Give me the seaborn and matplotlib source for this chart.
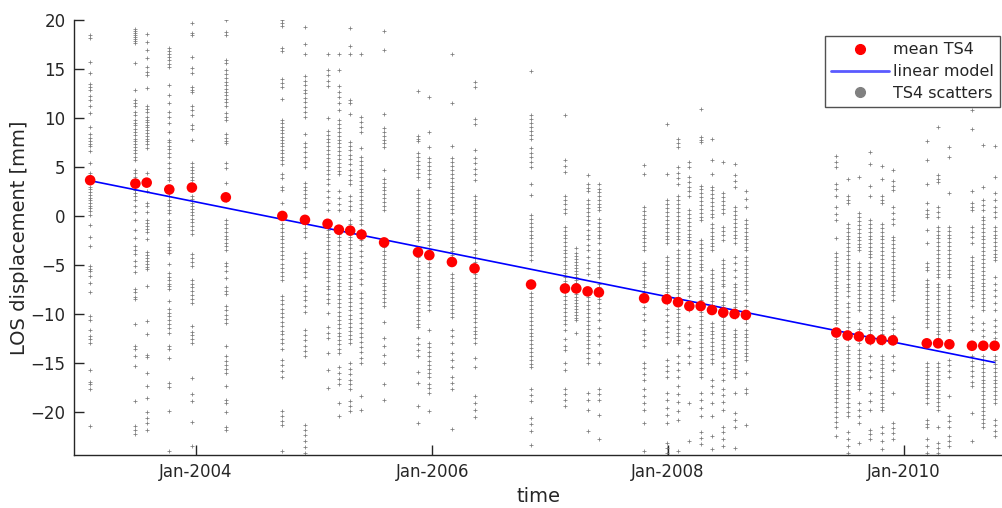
import pandas as pd
import numpy as np
import matplotlib
matplotlib.use('Agg')
import matplotlib.pyplot as plt
import matplotlib.dates as mdates
from matplotlib.lines import Line2D
import seaborn as sns

# acquisition dates (35-day repeat cycle)
dates = ['2003-02-07', '2003-06-27', '2003-08-01', '2003-10-10', '2003-12-19',
         '2004-04-02', '2004-09-24', '2004-12-03',
         '2005-02-11', '2005-03-18', '2005-04-22', '2005-05-27', '2005-08-05', '2005-11-18', '2005-12-23',
         '2006-03-03', '2006-05-12', '2006-11-03',
         '2007-02-16', '2007-03-23', '2007-04-27', '2007-06-01', '2007-10-19', '2007-12-28',
         '2008-02-01', '2008-03-07', '2008-04-11', '2008-05-16', '2008-06-20', '2008-07-25', '2008-08-29',
         '2009-06-05', '2009-07-10', '2009-08-14', '2009-09-18', '2009-10-23', '2009-11-27',
         '2010-03-12', '2010-04-16', '2010-05-21', '2010-07-30', '2010-09-03', '2010-10-08']

# mean LOS displacement per date [mm]
mean_ts4 = [3.65, 3.3, 3.4, 2.7, 2.9,
            1.9, 0.0, -0.4,
            -0.8, -1.4, -1.5, -1.9, -2.7, -3.7, -4.0,
            -4.7, -5.35, -7.0,
            -7.4, -7.4, -7.7, -7.8, -8.4, -8.5,
            -8.8, -9.2, -9.2, -9.6, -9.85, -10.0, -10.1,
            -11.9, -12.2, -12.3, -12.6, -12.65, -12.7,
            -13.0, -13.0, -13.1, -13.25, -13.25, -13.25]

# linear model
model_offset = 3.6    # mm at first date
model_rate = -2.42    # mm / year

# individual scatterer values per date [mm]
ts4_scatter = [
    [18.5, 18.2, 15.7, 14.6, 13.5, 13.2, 12.9, 12.2, 11.8, 11.2, 10.5, 9.1, 8.4, 8.0, 7.6, 7.3, 7.1, 6.6, 5.4, 4.4, 3.0, 2.7, 2.4, 2.1, 1.8, 1.6, 1.3, 1.0, 0.8, 0.5, 0.1, -0.9, -2.2, -3.1, -5.1, -5.4, -5.6, -6.1, -6.8, -7.8, -10.2, -10.6, -11.6, -12.3, -12.6, -13.0, -15.7, -16.9, -17.2, -17.7, -21.4],
    [19.1, 18.9, 18.7, 18.5, 18.3, 18.1, 17.9, 17.7, 15.6, 12.9, 11.8, 11.5, 11.2, 10.6, 10.3, 9.8, 9.5, 9.3, 8.9, 8.6, 8.3, 7.9, 7.6, 7.3, 7.0, 6.7, 6.4, 6.0, 5.7, 4.7, 4.4, 4.0, 3.0, 2.6, 2.3, 2.0, 1.6, 1.0, 0.4, -0.4, -1.4, -2.3, -3.1, -3.5, -3.9, -4.6, -5.1, -5.7, -7.5, -7.8, -8.3, -8.5, -11.0, -13.3, -13.6, -14.3, -15.3, -18.9, -21.4, -21.8, -22.3],
    [18.6, 17.8, 16.9, 16.1, 15.2, 14.7, 14.4, 13.1, 11.2, 10.9, 10.6, 10.1, 9.8, 9.6, 9.3, 9.1, 8.8, 8.5, 8.2, 7.9, 7.6, 7.3, 6.9, 4.4, 2.5, 1.3, 1.0, 0.4, -0.4, -0.7, -1.0, -1.3, -1.6, -2.4, -3.7, -4.0, -4.3, -4.6, -4.9, -5.2, -5.4, -7.2, -10.7, -12.0, -14.2, -14.4, -16.0, -17.4, -18.6, -20.0, -20.6, -21.1, -21.8],
    [17.1, 16.8, 16.5, 16.2, 15.9, 15.5, 15.2, 13.4, 12.3, 11.5, 10.6, 10.1, 9.5, 8.6, 7.8, 7.5, 7.1, 6.8, 6.4, 6.0, 5.4, 4.9, 4.4, 4.0, 3.7, 2.3, 2.0, 1.6, 1.3, 1.0, 0.6, 0.3, -0.4, -0.8, -1.1, -1.4, -1.8, -2.8, -3.2, -3.5, -3.8, -4.9, -5.8, -6.2, -6.5, -6.9, -7.2, -7.5, -8.7, -9.5, -9.9, -10.2, -10.6, -11.0, -11.4, -11.9, -13.3, -13.6, -14.5, -17.1, -17.5, -19.9, -24.0],
    [19.7, 18.7, 18.5, 16.2, 15.1, 14.6, 13.2, 12.9, 12.7, 11.2, 10.8, 10.3, 9.3, 8.9, 7.8, 5.4, 5.0, 4.7, 4.4, 4.0, 3.7, 2.0, 1.7, 1.3, 1.0, 0.7, 0.4, 0.1, -0.3, -0.6, -1.0, -1.4, -1.8, -3.9, -4.3, -4.7, -5.1, -6.5, -6.9, -7.3, -7.7, -8.1, -8.5, -8.9, -11.2, -11.8, -12.2, -12.6, -13.0, -16.5, -18.2, -18.9, -21.0, -23.5],
    [20.0, 18.8, 18.5, 15.9, 15.6, 14.9, 14.5, 14.1, 13.7, 13.4, 13.0, 12.6, 12.3, 11.9, 11.6, 11.2, 10.5, 10.1, 9.8, 8.4, 8.0, 7.7, 7.4, 5.4, 4.9, 3.4, 1.6, -0.4, -0.8, -1.2, -1.6, -2.0, -2.4, -2.8, -3.1, -3.5, -4.8, -5.1, -5.6, -6.3, -7.3, -7.7, -8.0, -9.2, -9.6, -10.1, -10.5, -10.9, -13.3, -14.3, -14.8, -15.2, -15.6, -16.0, -17.4, -18.8, -19.1, -20.0, -21.5, -21.8],
    [20.0, 19.7, 19.4, 17.1, 16.8, 14.0, 13.6, 13.2, 11.9, 9.8, 9.5, 9.1, 8.8, 8.5, 8.1, 7.8, 7.4, 7.1, 6.7, 6.4, 6.0, 5.7, 5.3, 4.3, 3.9, 3.0, 2.6, 1.3, -0.8, -1.2, -1.6, -2.0, -2.4, -2.8, -3.2, -3.6, -4.0, -4.4, -4.9, -5.3, -5.7, -6.1, -6.5, -8.2, -8.6, -9.0, -9.5, -9.9, -10.3, -10.8, -11.2, -11.7, -12.1, -12.6, -13.0, -13.6, -14.7, -15.2, -15.8, -16.4, -19.9, -20.4, -20.9, -21.3, -24.0],
    [19.3, 17.6, 16.5, 14.3, 13.8, 13.4, 12.9, 12.5, 12.0, 11.6, 11.1, 10.6, 10.1, 8.4, 7.4, 7.0, 6.5, 6.0, 5.5, 5.0, 3.4, 3.0, 2.6, 2.2, 1.8, 1.3, 0.9, -0.8, -1.2, -1.6, -2.1, -3.8, -4.3, -4.8, -5.2, -5.7, -6.2, -7.2, -7.7, -8.2, -8.6, -9.2, -9.8, -11.6, -12.2, -12.7, -13.3, -13.8, -14.3, -21.3, -21.8, -22.4, -23.0, -23.6, -24.2],
    [16.5, 14.9, 14.4, 13.8, 13.3, 10.0, 8.7, 8.3, 7.9, 7.5, 7.1, 6.7, 6.3, 5.9, 5.5, 5.1, 4.7, 4.3, 3.8, 3.3, 2.5, 1.9, 1.3, 0.6, -1.4, -1.8, -2.2, -2.6, -3.0, -3.4, -3.8, -4.2, -4.6, -5.0, -5.4, -5.8, -6.2, -6.6, -7.1, -7.5, -8.0, -8.5, -8.9, -9.9, -11.3, -11.9, -12.5, -14.0, -15.7, -17.6],
    [16.5, 14.9, 13.3, 12.7, 12.1, 11.5, 10.8, 9.8, 9.4, 9.0, 8.6, 8.2, 7.8, 7.4, 7.0, 6.6, 6.2, 5.8, 5.4, 5.0, 4.6, 4.3, 2.5, 1.8, 1.2, 0.6, -1.4, -1.8, -2.2, -2.6, -3.0, -3.5, -3.9, -4.3, -4.7, -5.1, -5.5, -6.0, -6.4, -6.8, -7.2, -7.6, -8.1, -8.5, -8.9, -9.3, -9.8, -10.2, -10.6, -11.0, -11.4, -11.9, -12.3, -12.7, -13.1, -13.6, -14.0, -15.4, -16.0, -16.6, -17.2, -19.1, -20.4],
    [19.2, 17.3, 16.5, 11.8, 11.5, 10.4, 7.5, 7.1, 6.7, 6.2, 5.8, 5.3, 4.7, 4.2, 3.7, 3.3, 2.0, 1.5, 1.0, 0.6, -0.4, -0.8, -1.2, -1.7, -2.1, -2.5, -2.9, -3.3, -3.8, -4.2, -4.6, -5.0, -5.4, -5.9, -6.3, -6.7, -7.1, -7.5, -8.0, -8.4, -8.8, -9.2, -9.6, -10.1, -10.5, -10.9, -11.3, -11.7, -12.2, -12.6, -13.0, -15.0, -15.6, -16.1, -16.7, -17.2, -17.7, -18.9, -19.4, -19.9],
    [16.5, 10.1, 9.6, 9.1, 8.6, 6.9, 6.0, 5.6, 5.2, 4.8, 4.4, 4.0, 3.6, 3.2, 2.8, 2.4, 2.0, 1.6, 1.2, 0.8, 0.4, 0.0, -0.4, -0.8, -1.4, -1.9, -2.5, -3.0, -3.6, -4.1, -4.7, -5.3, -5.8, -6.4, -6.9, -7.9, -8.4, -8.9, -9.4, -9.9, -10.4, -10.9, -11.4, -11.9, -12.4, -12.9, -13.4, -13.9, -14.5, -15.0, -18.4, -19.8],
    [18.9, 16.9, 10.4, 9.0, 8.6, 8.2, 7.8, 7.4, 7.0, 4.7, 3.8, 3.4, 3.0, 2.6, 2.2, 1.8, 1.4, 1.0, 0.6, -2.8, -3.2, -3.6, -4.0, -4.4, -4.8, -5.2, -5.6, -6.0, -6.4, -6.8, -7.2, -7.6, -8.0, -8.4, -8.8, -9.2, -10.8, -12.5, -13.3, -14.2, -15.0, -17.2, -18.8],
    [12.8, 8.2, 7.9, 7.7, 6.4, 6.0, 5.6, 5.2, 4.8, 4.4, 4.0, 2.6, 2.2, 1.8, 1.4, 1.0, 0.6, 0.2, -0.2, -0.6, -1.0, -1.4, -1.8, -2.2, -2.5, -4.2, -4.6, -5.0, -5.4, -5.8, -6.2, -6.6, -7.0, -7.4, -7.8, -8.2, -8.6, -9.0, -9.4, -9.8, -10.2, -10.6, -11.0, -11.3, -12.5, -13.1, -13.7, -14.3, -15.9, -17.1, -19.4, -21.1],
    [12.1, 8.6, 7.0, 5.9, 5.5, 5.1, 4.7, 4.3, 3.8, 3.4, 3.0, 1.6, 1.2, 0.8, 0.4, 0.0, -0.4, -0.9, -1.3, -1.7, -2.1, -2.6, -3.0, -3.5, -4.8, -5.2, -5.7, -6.1, -6.5, -6.9, -7.4, -7.8, -8.3, -8.7, -9.1, -9.6, -11.6, -13.0, -13.4, -13.9, -14.3, -14.8, -15.2, -15.6, -16.0, -16.4, -17.2, -17.6, -18.1, -19.9],
    [16.5, 11.5, 7.1, 5.9, 5.5, 5.1, 4.7, 4.3, 3.9, 3.5, 3.1, 2.7, 2.3, 1.9, 1.5, 1.1, 0.7, 0.3, -0.4, -0.8, -1.2, -1.6, -2.0, -2.4, -2.8, -3.2, -3.6, -4.0, -4.4, -4.8, -5.9, -6.3, -6.7, -7.1, -7.5, -7.9, -8.3, -8.7, -9.1, -9.5, -9.9, -10.3, -11.6, -12.3, -13.0, -14.0, -14.7, -15.4, -16.4, -17.0, -17.7, -21.7],
    [13.7, 13.2, 9.9, 9.4, 6.7, 5.9, 5.4, 4.8, 4.3, 3.7, 2.0, 1.6, 1.2, 0.8, 0.4, 0.0, -0.4, -0.8, -1.2, -1.6, -2.0, -2.4, -2.8, -3.5, -3.9, -4.3, -4.7, -5.1, -5.5, -5.9, -6.3, -6.8, -7.2, -7.6, -8.0, -8.4, -8.8, -9.2, -9.6, -10.0, -10.4, -10.8, -11.3, -11.7, -12.1, -12.5, -13.0, -14.5, -15.4, -18.4, -19.1, -19.8, -20.5],
    [14.8, 10.3, 9.9, 9.5, 9.1, 8.7, 8.3, 7.9, 6.9, 6.4, 6.0, 5.5, 5.0, 3.3, 2.1, 0.1, -0.3, -0.7, -1.1, -1.5, -1.9, -2.3, -2.8, -3.2, -3.6, -4.0, -4.5, -7.9, -8.3, -8.7, -9.1, -9.5, -9.9, -10.3, -10.7, -11.1, -11.5, -11.9, -12.3, -12.7, -13.1, -13.5, -13.9, -14.3, -14.7, -15.1, -15.4, -17.7, -18.3, -18.9, -20.6, -21.2, -21.9, -23.4],
    [10.3, 5.7, 5.1, 4.5, 2.0, 1.6, 1.2, 0.7, 0.3, -1.1, -1.5, -1.9, -2.3, -2.7, -3.1, -3.5, -3.8, -4.2, -4.6, -5.0, -5.4, -5.8, -6.2, -6.6, -7.0, -7.4, -7.8, -8.2, -8.6, -9.0, -9.4, -9.8, -10.2, -10.6, -11.0, -11.6, -12.6, -13.3, -13.7, -15.0, -15.7, -17.7, -18.2, -18.8, -19.4],
    [-3.3, -3.8, -4.1, -4.4, -4.7, -5.0, -5.3, -5.6, -5.9, -6.2, -6.5, -6.8, -7.1, -7.4, -7.7, -8.0, -8.3, -8.6, -8.9, -9.2, -9.5, -9.8, -10.1, -10.4, -10.6, -11.9],
    [4.2, 3.3, 2.9, 2.5, 1.6, 1.2, 0.8, 0.4, 0.0, -0.4, -0.8, -1.4, -1.9, -2.4, -3.0, -3.5, -4.2, -4.8, -5.3, -5.9, -7.5, -7.9, -8.3, -8.7, -9.1, -9.5, -9.9, -10.3, -10.7, -11.1, -11.5, -11.9, -12.3, -12.7, -13.1, -13.5, -14.0, -14.5, -15.0, -18.1, -18.8, -19.8, -21.9],
    [3.3, 2.8, 2.4, 2.0, 1.6, 1.2, 0.9, 0.6, -0.3, -0.7, -1.1, -1.5, -1.9, -2.3, -2.8, -3.5, -3.9, -4.3, -4.7, -5.1, -5.5, -5.8, -6.2, -6.9, -7.3, -7.7, -8.1, -8.5, -8.9, -9.4, -9.9, -10.6, -11.4, -12.3, -13.1, -14.0, -15.0, -17.7, -18.2, -18.8, -20.3, -22.8],
    [5.2, 4.3, 0.9, 0.5, 0.1, -0.3, -0.7, -1.1, -1.5, -1.9, -2.3, -2.7, -3.1, -3.5, -4.8, -5.2, -5.6, -6.0, -6.5, -6.9, -7.3, -7.8, -8.2, -8.6, -9.3, -10.0, -10.6, -11.6, -12.1, -12.7, -13.3, -15.0, -15.5, -16.1, -16.7, -17.7, -18.4, -19.1, -19.8, -21.1, -24.0],
    [9.4, 4.3, 1.6, 1.2, 0.8, 0.4, 0.0, -0.4, -0.8, -1.2, -1.6, -2.0, -2.4, -2.8, -4.2, -4.6, -5.0, -5.4, -5.8, -6.2, -6.6, -7.0, -7.4, -7.8, -8.2, -8.9, -9.5, -10.1, -10.7, -11.3, -11.8, -12.4, -13.0, -14.7, -15.3, -15.8, -16.4, -18.1, -18.8, -19.6, -20.3, -21.1, -23.2, -23.7, -24.2],
    [7.9, 7.4, 7.0, 5.0, 4.4, 3.9, 3.3, 2.0, 1.6, 1.2, 0.8, 0.4, 0.0, -0.4, -0.8, -1.2, -1.6, -2.0, -2.4, -2.8, -3.5, -3.9, -4.3, -4.7, -5.1, -5.5, -5.9, -6.3, -6.7, -7.1, -7.5, -7.9, -8.3, -8.7, -9.1, -9.5, -9.9, -10.3, -10.7, -11.1, -11.5, -11.9, -12.3, -12.7, -13.0, -14.3, -15.0, -15.7, -16.4, -17.4, -18.2, -19.0, -19.9, -20.8, -24.0],
    [5.5, 5.0, 4.0, 3.5, 3.0, 2.5, 2.0, 0.6, 0.2, -0.2, -0.6, -1.0, -1.4, -1.8, -2.2, -2.5, -2.8, -3.5, -3.9, -4.3, -4.7, -5.1, -5.5, -5.9, -6.3, -6.7, -7.2, -7.5, -8.2, -8.9, -9.6, -11.3, -12.0, -12.8, -13.5, -14.3, -15.0, -19.1, -23.0],
    [10.9, 8.1, 7.8, 7.5, 3.1, 2.7, 2.3, 1.9, 1.5, 1.1, 0.7, 0.3, -0.1, -0.4, -2.5, -2.9, -3.3, -3.7, -4.1, -4.5, -4.9, -5.2, -5.5, -6.2, -6.6, -7.0, -7.4, -7.8, -8.2, -8.6, -9.0, -9.4, -9.8, -10.2, -10.6, -11.0, -11.4, -11.8, -12.2, -12.6, -13.0, -13.4, -13.8, -14.2, -14.6, -15.0, -15.5, -16.0, -16.4, -18.1, -18.8, -19.6, -20.4, -22.1, -22.7, -23.3],
    [7.9, 5.7, 4.3, 3.0, 2.6, 2.2, 1.8, 1.4, 1.0, 0.6, 0.2, -0.1, -0.8, -1.2, -1.6, -2.0, -2.4, -2.8, -3.1, -3.5, -5.5, -5.9, -6.3, -6.7, -7.1, -7.5, -7.9, -8.3, -8.7, -9.1, -9.6, -10.9, -11.3, -11.7, -12.1, -12.5, -12.9, -13.3, -13.7, -14.1, -14.6, -15.0, -16.7, -17.4, -18.1, -19.1, -20.4, -22.5, -23.8],
    [5.5, 2.3, 1.9, 1.5, 1.1, 0.7, 0.3, -1.1, -1.5, -1.9, -2.5, -4.5, -4.9, -5.3, -5.7, -6.1, -6.5, -6.9, -7.2, -7.9, -8.3, -8.7, -9.1, -9.5, -9.9, -10.3, -10.7, -11.1, -11.5, -11.9, -12.3, -12.7, -13.1, -13.5, -13.9, -14.3, -15.0, -15.5, -16.1, -16.7, -17.7, -18.3, -19.0, -19.8, -21.5, -22.1, -22.8, -23.5],
    [5.3, 4.2, 3.6, 3.0, 0.9, 0.5, 0.1, -0.3, -0.7, -1.1, -1.5, -1.9, -2.3, -2.8, -4.2, -4.8, -5.5, -6.2, -6.9, -7.3, -7.7, -8.1, -8.5, -8.9, -9.3, -9.7, -10.0, -10.3, -11.6, -12.0, -12.4, -12.8, -13.2, -13.6, -14.0, -14.4, -14.8, -15.2, -15.6, -16.0, -16.4, -18.1, -20.1, -20.8, -21.5, -23.7],
    [2.5, 1.7, 0.9, -0.4, -0.8, -1.2, -1.6, -2.0, -2.4, -2.8, -3.2, -3.5, -4.2, -4.6, -5.0, -5.4, -5.8, -6.2, -6.6, -7.0, -7.5, -7.9, -8.6, -9.2, -9.9, -10.5, -10.9, -11.6, -12.0, -12.4, -12.8, -13.2, -13.6, -14.0, -14.3, -14.7, -16.0, -17.7, -18.1, -21.3],
    [6.1, 5.5, 5.0, 3.3, 2.7, 2.0, 0.9, 0.2, -0.4, -2.3, -3.8, -4.2, -4.6, -5.0, -5.4, -5.8, -6.2, -6.6, -7.0, -7.4, -7.8, -8.2, -8.6, -9.0, -9.4, -9.8, -10.2, -10.6, -10.9, -12.6, -13.0, -13.4, -13.8, -14.2, -14.6, -15.0, -15.4, -15.8, -16.2, -16.6, -17.0, -17.4, -17.8, -18.2, -18.6, -19.0, -19.5, -20.0, -20.5, -21.0, -21.5, -22.5],
    [3.8, 2.0, 1.6, 1.3, -0.8, -1.2, -1.6, -2.0, -2.4, -2.8, -3.2, -3.6, -4.0, -4.4, -4.8, -5.2, -5.6, -6.0, -6.4, -6.9, -7.3, -7.7, -8.2, -8.9, -9.3, -9.8, -10.3, -10.8, -11.3, -11.8, -12.2, -12.6, -13.3, -13.7, -14.1, -14.5, -14.9, -15.3, -15.7, -16.1, -16.5, -16.9, -17.3, -17.8, -18.2, -18.6, -19.1, -19.5, -20.0, -20.4, -22.1, -22.8, -23.5, -24.2],
    [4.0, 0.3, -0.1, -0.5, -0.9, -1.3, -1.7, -2.1, -2.5, -2.9, -3.2, -3.5, -4.8, -5.2, -5.6, -6.0, -6.4, -6.8, -7.2, -7.6, -8.0, -8.4, -8.8, -9.2, -9.6, -10.9, -11.5, -12.2, -13.0, -13.7, -14.1, -14.5, -14.9, -15.3, -15.7, -16.1, -16.5, -16.9, -17.3, -17.7, -19.1, -19.8, -20.4, -21.1, -23.2],
    [6.5, 5.3, 3.1, 2.0, -0.4, -0.8, -1.2, -1.6, -2.0, -2.4, -2.8, -3.2, -3.6, -3.9, -4.2, -4.8, -5.2, -5.6, -6.0, -6.4, -6.8, -7.2, -7.6, -8.0, -8.4, -8.8, -9.2, -9.6, -10.0, -10.4, -10.8, -11.2, -11.6, -12.0, -12.4, -12.8, -13.0, -14.3, -15.0, -15.7, -16.4, -18.1, -18.9, -19.8, -21.8, -22.3, -22.8],
    [5.1, 3.8, 2.0, 1.6, 1.3, -0.8, -1.2, -1.6, -2.0, -2.4, -2.8, -3.2, -3.6, -4.0, -4.4, -4.8, -5.2, -5.6, -6.0, -6.4, -6.8, -7.2, -7.6, -8.0, -8.4, -8.8, -9.2, -9.6, -10.0, -10.4, -10.8, -11.2, -11.6, -12.0, -12.4, -12.8, -13.0, -14.3, -14.7, -15.1, -15.5, -15.9, -16.3, -16.7, -17.1, -17.5, -17.9, -18.3, -18.7, -19.1, -19.5, -19.8, -21.5, -22.2, -23.0, -23.8],
    [4.7, 3.6, 3.1, 2.6, 0.9, 0.3, -0.3, -0.8, -2.1, -2.5, -2.9, -3.3, -3.7, -4.1, -4.5, -4.9, -5.3, -5.7, -6.1, -6.5, -6.9, -7.3, -7.7, -8.1, -8.6, -10.3, -10.9, -11.5, -12.2, -13.0, -14.3, -15.0, -15.7, -18.1, -21.1, -21.6, -22.2, -22.8],
    [7.7, 5.7, 3.3, 1.3, 0.6, 0.2, -0.1, -1.4, -2.8, -4.8, -5.2, -5.5, -6.5, -6.9, -7.3, -7.7, -8.1, -8.5, -8.9, -9.3, -9.7, -10.1, -10.5, -10.9, -11.3, -15.0, -15.4, -15.8, -16.2, -16.6, -17.0, -17.4, -17.8, -18.2, -18.6, -19.1, -20.8, -21.2, -21.5, -22.8, -23.5, -24.2],
    [9.1, 4.2, 3.8, 3.5, 0.9, 0.4, -0.1, -1.1, -1.5, -1.9, -2.3, -2.7, -3.1, -3.5, -3.9, -4.3, -4.7, -5.1, -5.5, -5.9, -6.2, -6.9, -7.3, -7.7, -8.1, -8.5, -8.9, -9.3, -9.7, -10.1, -10.5, -10.9, -11.3, -11.7, -12.1, -12.5, -13.0, -15.0, -15.4, -15.8, -16.2, -16.6, -17.0, -17.4, -17.8, -18.2, -18.6, -19.0, -19.4, -19.8, -21.5, -23.2, -23.7, -24.2],
    [7.0, 6.0, 2.3, -1.1, -1.5, -1.9, -2.3, -2.7, -3.1, -3.5, -3.9, -4.3, -4.7, -5.1, -5.5, -5.9, -6.2, -7.2, -7.6, -8.0, -8.4, -8.8, -9.2, -9.6, -10.0, -10.4, -10.8, -11.2, -11.6, -14.7, -15.2, -15.8, -16.4, -18.4, -20.4, -20.9, -21.5, -22.5, -23.0, -23.5],
    [10.8, 8.9, 2.5, 1.3, 0.9, 0.6, -1.1, -1.6, -2.2, -2.8, -4.2, -4.6, -5.0, -5.4, -5.8, -6.2, -6.6, -7.0, -7.4, -7.8, -8.2, -8.6, -9.2, -10.3, -10.9, -11.6, -14.3, -14.8, -15.3, -15.8, -16.3, -16.9, -17.4, -20.1, -23.0],
    [7.2, 3.0, 1.6, 1.1, 0.6, -0.1, -0.4, -0.8, -1.2, -1.6, -2.0, -2.4, -2.8, -3.2, -3.6, -4.0, -4.4, -4.8, -5.2, -5.6, -6.0, -6.4, -6.8, -7.2, -7.6, -8.0, -8.4, -8.8, -9.2, -9.6, -10.9, -11.6, -12.3, -13.0, -14.3, -14.7, -15.1, -15.5, -15.9, -16.3, -16.7, -17.1, -17.5, -17.9, -18.3, -18.7, -19.1, -19.5, -19.9, -20.3, -20.7, -21.1, -21.5],
    [7.1, 4.0, 2.3, 1.6, 0.9, 0.4, -0.1, -1.1, -1.5, -1.9, -2.3, -2.7, -3.1, -3.5, -3.9, -4.2, -4.5, -6.2, -6.9, -7.6, -8.2, -8.9, -9.6, -10.6, -11.2, -11.8, -12.5, -13.3, -14.3, -14.7, -15.1, -15.5, -15.9, -16.3, -16.7, -17.1, -17.5, -17.9, -18.3, -18.7, -19.1, -20.8, -21.3, -21.9, -22.5],
]

# ---------------------------------------------------------------------------
# tables
# ---------------------------------------------------------------------------
date_idx = pd.to_datetime(dates)
df_mean = pd.DataFrame({'time': date_idx, 'los': mean_ts4})

rows = []
for d, vals in zip(date_idx, ts4_scatter):
    for v in vals:
        rows.append((d, v))
df_sc = pd.DataFrame(rows, columns=['time', 'los'])

t_model = date_idx[[0, -1]]
years = (t_model - date_idx[0]).days / 365.25
df_model = pd.DataFrame({'time': t_model, 'los': model_offset + model_rate * np.asarray(years)})

# ---------------------------------------------------------------------------
# plot
# ---------------------------------------------------------------------------
sns.set_style('white')
plt.rcParams['font.family'] = ['DejaVu Sans']
axis_col = '#262626'

fig = plt.figure(figsize=(10.03, 5.08), dpi=100)
ax = fig.add_axes([74 / 1003, 53 / 508, 929 / 1003, 435 / 508])

sns.scatterplot(data=df_sc, x='time', y='los', marker='+', color='#7a7a7a',
                s=8, linewidth=0.55, ax=ax, legend=False, zorder=2)
sns.lineplot(data=df_model, x='time', y='los', color='#0000ff', linewidth=1.2,
             ax=ax, legend=False, zorder=3)
sns.scatterplot(data=df_mean, x='time', y='los', color='#ff0000', s=58,
                edgecolor='none', ax=ax, legend=False, zorder=4)

ax.set_xlim(pd.Timestamp('2002-12-19'), pd.Timestamp('2010-11-03'))
ax.set_ylim(-24.4, 20)
ax.set_yticks(np.arange(-20, 21, 5))
ax.xaxis.set_major_locator(mdates.YearLocator(2, month=1, day=1))
ax.xaxis.set_major_formatter(mdates.DateFormatter('%b-%Y'))

ax.set_xlabel('time', fontsize=14, color=axis_col)
ax.set_ylabel('LOS displacement [mm]', fontsize=14, color=axis_col, labelpad=1)

for side in ['top', 'right']:
    ax.spines[side].set_visible(False)
for side in ['left', 'bottom']:
    ax.spines[side].set_color(axis_col)
    ax.spines[side].set_linewidth(1.0)
ax.tick_params(direction='in', length=7, width=1.0, colors=axis_col,
               labelsize=12, left=True, bottom=True, pad=6)

handles = [
    Line2D([], [], marker='o', color='#ff0000', linestyle='none', markersize=7),
    Line2D([], [], color='#5a5aff', linewidth=2),
    Line2D([], [], marker='o', color='#808080', linestyle='none', markersize=7),
]
labels = ['mean TS4', 'linear model', 'TS4 scatters']
leg = ax.legend(handles, labels, loc='upper right', bbox_to_anchor=(0.997, 0.963),
                borderaxespad=0, fontsize=11.5, handlelength=3.6, handletextpad=0.25,
                labelspacing=0.42, borderpad=0.4, frameon=True, fancybox=False)
leg.get_frame().set_edgecolor(axis_col)
leg.get_frame().set_linewidth(1.0)
for txt in leg.get_texts():
    txt.set_color(axis_col)

fig.savefig('out.png', dpi=100)
